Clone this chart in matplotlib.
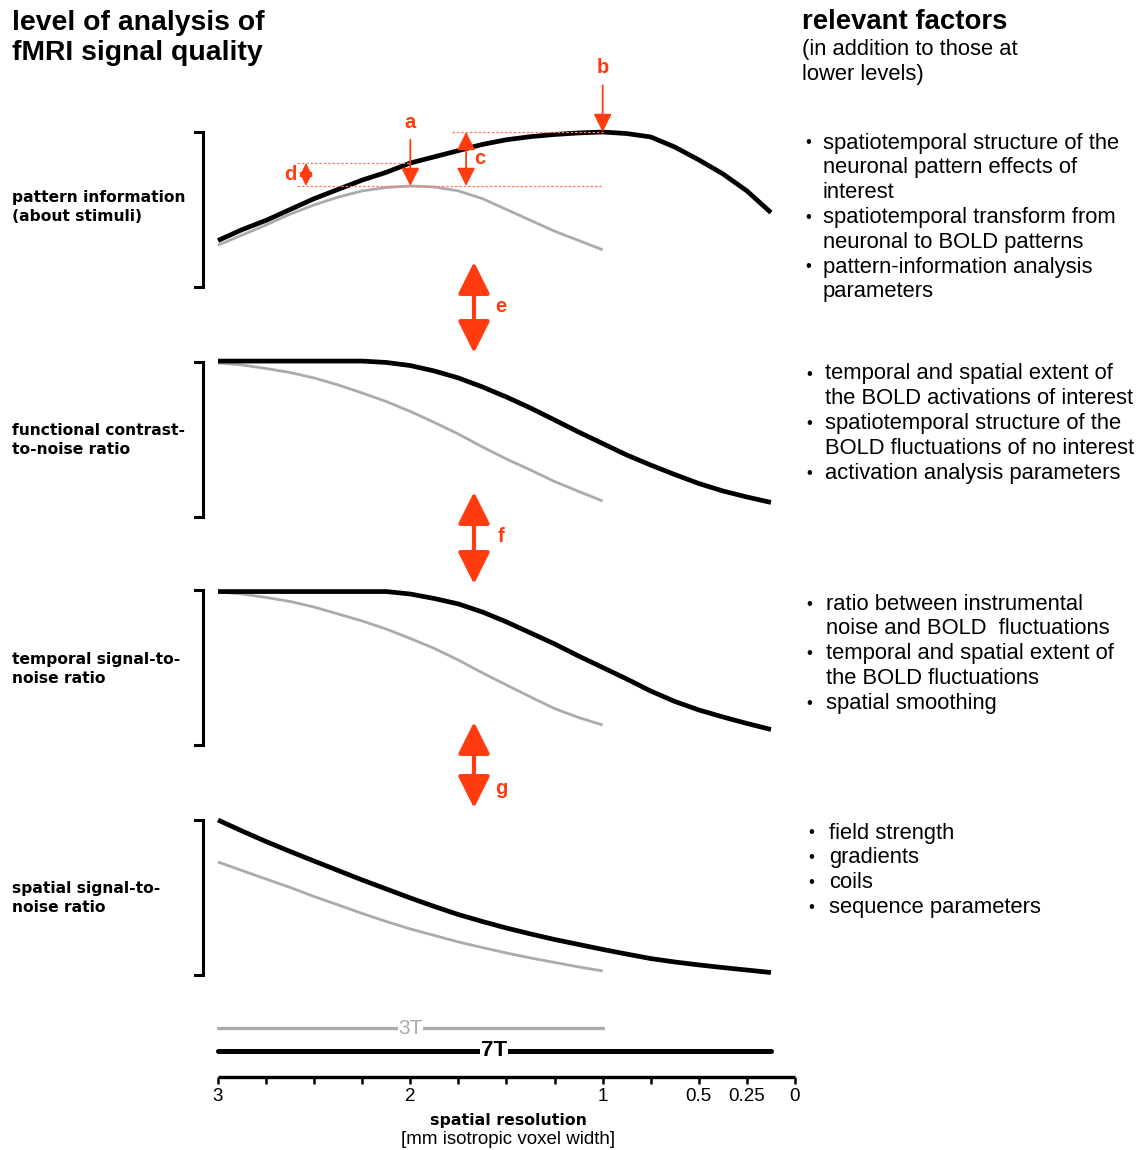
import matplotlib.pyplot as plt

W, H = 1143, 1150
RED = "#ff3b0f"
GREY = "#ababab"

# resolution axis: 13 evenly spaced ticks, only some of them labelled
res_pos = [0, 4, 8, 10, 11, 12]
res_labels = ["3", "2", "1", "0.5", "0.25", "0"]

# sample positions along the resolution axis (tick units)
u_7t = [0, 0.5, 1, 1.5, 2, 2.5, 3, 3.5, 4, 4.5, 5, 5.5, 6, 6.5, 7, 7.5,
        8, 8.5, 9, 9.5, 10, 10.5, 11, 11.5]
u_3t = [0, 0.5, 1, 1.5, 2, 2.5, 3, 3.5, 4, 4.5, 5, 5.5, 6, 6.5, 7, 7.5, 8]

# relative signal quality (0 = bracket bottom, 1 = top)
pattern_7t = [0.30, 0.37, 0.43, 0.50, 0.57, 0.63, 0.69, 0.74, 0.80, 0.84,
              0.88, 0.92, 0.95, 0.97, 0.984, 0.994, 1.0, 0.99, 0.968, 0.903,
              0.82, 0.73, 0.62, 0.48]
pattern_3t = [0.27, 0.335, 0.40, 0.47, 0.53, 0.58, 0.62, 0.642, 0.652,
              0.645, 0.62, 0.57, 0.50, 0.43, 0.36, 0.30, 0.24]

fcnr_7t = [1.006, 1.006, 1.006, 1.006, 1.006, 1.006, 1.006, 0.997, 0.977,
           0.942, 0.897, 0.839, 0.774, 0.703, 0.626, 0.548, 0.474, 0.40,
           0.335, 0.274, 0.216, 0.168, 0.129, 0.094]
fcnr_3t = [0.994, 0.981, 0.958, 0.932, 0.897, 0.852, 0.80, 0.745, 0.681,
           0.61, 0.535, 0.452, 0.374, 0.303, 0.229, 0.165, 0.103]

tsnr_7t = [0.99, 0.99, 0.99, 0.99, 0.99, 0.99, 0.99, 0.99, 0.974, 0.945,
           0.91, 0.858, 0.794, 0.723, 0.652, 0.574, 0.50, 0.426, 0.348,
           0.281, 0.226, 0.181, 0.139, 0.10]
tsnr_3t = [0.987, 0.974, 0.952, 0.926, 0.89, 0.845, 0.80, 0.748, 0.687,
           0.623, 0.548, 0.465, 0.387, 0.31, 0.235, 0.177, 0.129]

ssnr_7t = [1.0, 0.929, 0.861, 0.797, 0.735, 0.674, 0.613, 0.555, 0.497,
           0.442, 0.39, 0.345, 0.303, 0.265, 0.229, 0.197, 0.165, 0.135,
           0.106, 0.084, 0.065, 0.048, 0.032, 0.016]
ssnr_3t = [0.729, 0.674, 0.619, 0.565, 0.506, 0.452, 0.397, 0.345, 0.297,
           0.255, 0.213, 0.177, 0.142, 0.11, 0.081, 0.052, 0.026]

levels = ["pattern information\n(about stimuli)",
          "functional contrast-\nto-noise ratio",
          "temporal signal-to-\nnoise ratio",
          "spatial signal-to-\nnoise ratio"]

factors = [
    ["spatiotemporal structure of the\nneuronal pattern effects of\ninterest",
     "spatiotemporal transform from\nneuronal to BOLD patterns",
     "pattern-information analysis\nparameters"],
    ["temporal and spatial extent of\nthe BOLD activations of interest",
     "spatiotemporal structure of the\nBOLD fluctuations of no interest",
     "activation analysis parameters"],
    ["ratio between instrumental\nnoise and BOLD  fluctuations",
     "temporal and spatial extent of\nthe BOLD fluctuations",
     "spatial smoothing"],
    ["field strength", "gradients", "coils", "sequence parameters"],
]

curves_7t = [pattern_7t, fcnr_7t, tsnr_7t, ssnr_7t]
curves_3t = [pattern_3t, fcnr_3t, tsnr_3t, ssnr_3t]

# -----------------------------
# layout (pixels)
# -----------------------------
X0, X1 = 218, 795
panel_top = [132, 362, 590, 820]
panel_h = 155
bullet_first = [143, 374, 604, 833]
bullet_x = [(805, 823), (806, 825), (806, 826), (808, 829)]
label_y = [207, 440, 669, 898]
line_step = 24.8

fig = plt.figure(figsize=(W / 100, H / 100), dpi=100)

# background axes in pixel coordinates for text and decorations
bg = fig.add_axes([0, 0, 1, 1])
bg.set_xlim(0, W)
bg.set_ylim(H, 0)
bg.axis("off")

sans = "Liberation Sans"
label_font = "DejaVu Sans"

bg.text(12, 38, "level of analysis of\nfMRI signal quality", fontsize=20.4,
        fontweight="bold", family=sans, va="center", ha="left",
        linespacing=1.25)
bg.text(802, 22, "relevant factors", fontsize=19.8, fontweight="bold",
        family=sans, va="center", ha="left")
bg.text(802, 62, "(in addition to those at\nlower levels)", fontsize=15.8,
        family=sans, va="center", ha="left", linespacing=1.2)

panels = []
for k in range(4):
    top = panel_top[k]
    ax = fig.add_axes([X0 / W, 1 - (top + panel_h) / H,
                       (X1 - X0) / W, panel_h / H])
    ax.set_xlim(0, 12)
    ax.set_ylim(0, 1)
    ax.axis("off")
    ax.plot(u_3t, curves_3t[k], color=GREY, lw=2, clip_on=False,
            solid_capstyle="butt", solid_joinstyle="round")
    ax.plot(u_7t, curves_7t[k], color="black", lw=3.4, clip_on=False,
            solid_capstyle="butt", solid_joinstyle="round")
    panels.append(ax)

    # bracket
    bg.plot([195, 203, 203, 195], [top, top, top + panel_h, top + panel_h],
            color="black", lw=2.2, solid_joinstyle="miter")

    # level label
    bg.text(12, label_y[k], levels[k], fontsize=11.2, fontweight="bold",
            family=label_font, va="center", ha="left", linespacing=1.4)

    # factor bullets
    i = 0
    bx, tx = bullet_x[k]
    for item in factors[k]:
        lines = item.split("\n")
        bg.text(bx, bullet_first[k] + i * line_step, "•", fontsize=12,
                family=sans, va="center", ha="left")
        for ln in lines:
            bg.text(tx, bullet_first[k] + i * line_step, ln, fontsize=15.8,
                    family=sans, va="center", ha="left")
            i += 1

# -----------------------------
# annotations a-d on the pattern-information panel
# -----------------------------
ax1 = panels[0]
peak_7t = max(pattern_7t)
peak_3t = max(pattern_3t)
u_peak_7t = u_7t[pattern_7t.index(peak_7t)]
u_peak_3t = u_3t[pattern_3t.index(peak_3t)]
at_2mm_7t = pattern_7t[u_7t.index(u_peak_3t)]

dot = dict(color="#ff7a60", lw=0.9, ls=(0, (2, 1.5)), clip_on=False)
ax1.plot([4.87, u_peak_7t], [peak_7t, peak_7t], **dot)
ax1.plot([1.64, 8.0], [peak_3t, peak_3t], **dot)
ax1.plot([1.64, u_peak_3t], [at_2mm_7t, at_2mm_7t], **dot)

small = dict(arrowstyle="-|>,head_length=1.0,head_width=0.5", color=RED,
             lw=1.3, mutation_scale=11, shrinkA=0, shrinkB=0)
small2 = dict(arrowstyle="<|-|>,head_length=1.0,head_width=0.5", color=RED,
              lw=1.3, mutation_scale=11, shrinkA=0, shrinkB=0)
ax1.annotate("", xy=(u_peak_3t, peak_3t), xytext=(u_peak_3t, 0.95),
             arrowprops=small, annotation_clip=False)
ax1.annotate("", xy=(u_peak_7t, peak_7t), xytext=(u_peak_7t, 1.30),
             arrowprops=small, annotation_clip=False)
ax1.annotate("", xy=(5.16, peak_3t), xytext=(5.16, peak_7t),
             arrowprops=small2, annotation_clip=False)
small3 = dict(small2, mutation_scale=8)
ax1.annotate("", xy=(1.83, peak_3t), xytext=(1.83, at_2mm_7t),
             arrowprops=small3, annotation_clip=False)

red_txt = dict(color=RED, fontsize=14.5, fontweight="bold", family=sans,
               ha="center", va="center", clip_on=False)
ax1.text(u_peak_3t, 1.06, "a", **red_txt)
ax1.text(u_peak_7t, 1.415, "b", **red_txt)
ax1.text(5.45, 0.83, "c", **red_txt)
ax1.text(1.5, 0.725, "d", **red_txt)

# -----------------------------
# big arrows e, f, g between levels
# -----------------------------
big = dict(arrowstyle="<|-|>,head_length=1.4,head_width=0.7", color=RED,
           lw=3.0, mutation_scale=14, shrinkA=0, shrinkB=0)
for (y0, y1, ty, name) in [(262, 353, 306, "e"), (492, 584, 536, "f"),
                            (722, 808, 789, "g")]:
    bg.annotate("", xy=(474, y1), xytext=(474, y0), arrowprops=big)
    bg.text(501, ty, name, color=RED, fontsize=14.5, fontweight="bold",
            family=sans, ha="center", va="center")

# -----------------------------
# resolution axis with 3T / 7T ranges
# -----------------------------
AX_Y, AX_TOP = 1077, 1015
axx = fig.add_axes([X0 / W, 1 - AX_Y / H, (X1 - X0) / W, (AX_Y - AX_TOP) / H])
axx.set_xlim(0, 12)
axx.set_ylim(0, 1)
for s in ["top", "left", "right"]:
    axx.spines[s].set_visible(False)
axx.spines["bottom"].set_linewidth(2.4)
axx.spines["bottom"].set_capstyle("butt")
axx.patch.set_visible(False)
axx.set_yticks([])
axx.set_xticks(range(13), minor=True)
axx.set_xticks(res_pos)
axx.set_xticklabels(res_labels, fontsize=13.5, family=sans)
axx.tick_params(axis="x", which="both", direction="out", length=5, width=1.8,
                pad=3)

y3 = (AX_Y - 1028) / (AX_Y - AX_TOP)
y7 = (AX_Y - 1051) / (AX_Y - AX_TOP)
axx.plot([u_3t[0], u_3t[-1]], [y3, y3], color=GREY, lw=2.4, clip_on=False,
         solid_capstyle="round")
axx.plot([u_7t[0], u_7t[-1]], [y7, y7], color="black", lw=3.6, clip_on=False,
         solid_capstyle="round")
axx.text(4.0, y3, "3T", color=GREY, fontsize=15, family=sans, ha="center",
         va="center", bbox=dict(fc="white", ec="none", pad=0.5))
axx.text(5.74, y7, "7T", color="black", fontsize=16, fontweight="bold",
         family=sans, ha="center", va="center",
         bbox=dict(fc="white", ec="none", pad=0.5))

bg.text(508, 1120, "spatial resolution", fontsize=11.3, fontweight="bold",
        family=label_font, ha="center", va="center")
bg.text(508, 1140, "[mm isotropic voxel width]", fontsize=13.5, family=sans,
        ha="center", va="center")

fig.savefig("out.png", dpi=100)
